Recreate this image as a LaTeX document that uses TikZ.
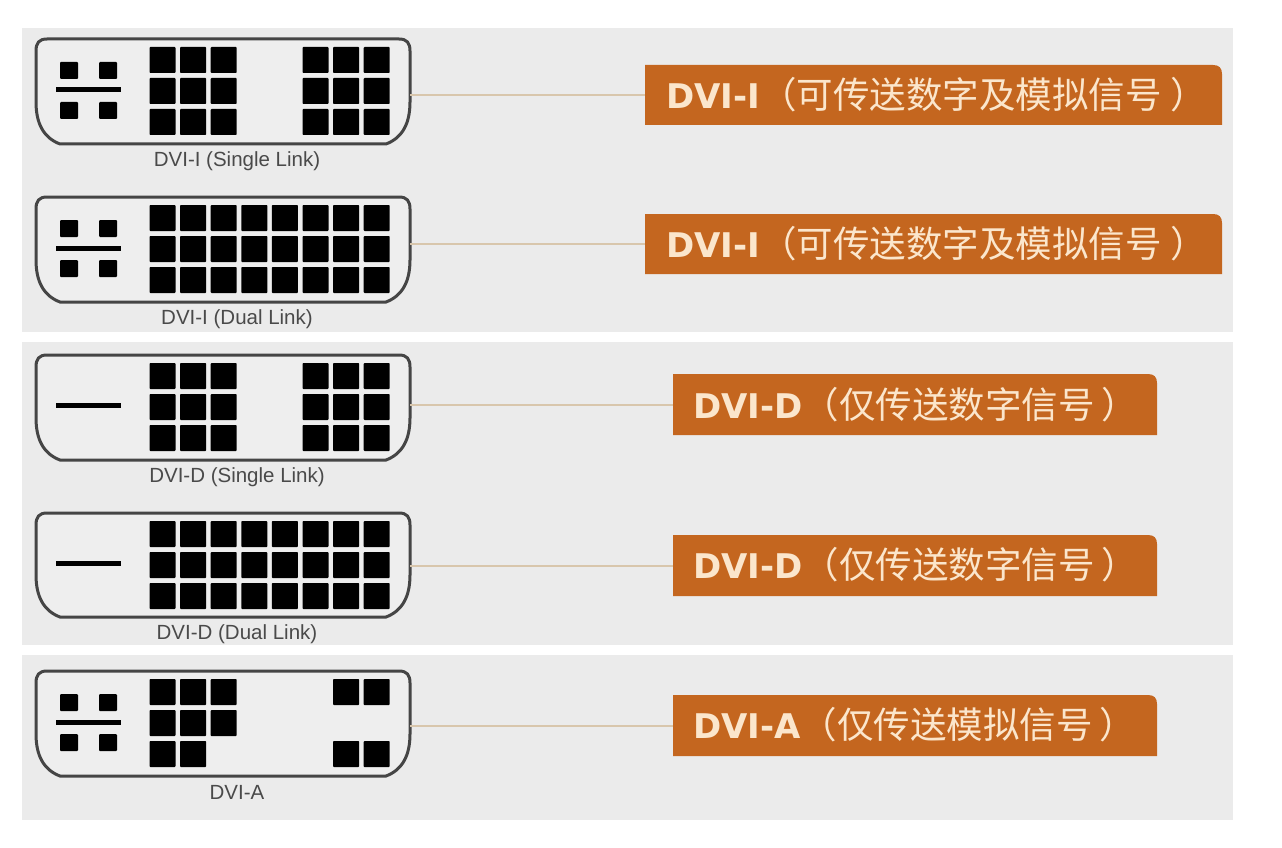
\documentclass[tikz,border=0pt]{standalone}
\usepackage{fontspec}
\setmainfont{Liberation Sans}
\newfontfamily\latinbold{DejaVu Sans Bold}
\newfontfamily\cjkfont{Noto Sans CJK SC}
\definecolor{panelgrey}{HTML}{EBEBEB}
\definecolor{badge}{HTML}{C4661F}
\definecolor{badgetext}{HTML}{FBE6CC}
\definecolor{leader}{HTML}{D8C6AC}
\definecolor{shellline}{HTML}{454545}
\definecolor{captiontext}{HTML}{4A4A4A}
\tikzset{
  panel/.style={fill=panelgrey,draw=none},
  shellpath/.style={draw=shellline,line width=3pt,fill=panelgrey!85!white},
  pin/.style={fill=black,draw=none,rounded corners=0.8pt},
  smallpin/.style={fill=black,draw=none,rounded corners=1pt},
  anchorbox/.style={draw=none,fill=none,inner sep=0pt,minimum width=374pt,minimum height=105pt},
  caption/.style={text=captiontext,font=\fontsize{20.5}{22}\selectfont,inner sep=0pt},
  badgefill/.style={fill=badge,draw=none},
  badgelabel/.style={text=badgetext,inner sep=0pt,anchor=west},
  leaderline/.style={draw=leader,line width=2pt},
}
% #1 name, #2 shell top y, #3 height
\newcommand{\dvishell}[3]{%
  \begin{scope}[yshift=-#2pt]
    \pgfmathsetmacro{\shh}{#3}
    \draw[shellpath] (47,0) -- (399,0) .. controls (407,0) and (410,4) .. (410,12)
      -- (410,\shh-42) .. controls (410,\shh-20) and (402,\shh-6) .. (386,\shh)
      -- (60,\shh) .. controls (44,\shh-6) and (36,\shh-20) .. (36,\shh-42)
      -- (36,12) .. controls (36,4) and (39,0) .. (47,0) -- cycle;
    \node[anchorbox] (#1) at (223,\shh/2) {};
  \end{scope}}
\newcommand{\analogpins}[1]{%
  \begin{scope}[yshift=-#1pt]
    \foreach \px in {60,99}{\foreach \py in {23,63}{
      \fill[smallpin] (\px,\py) rectangle ++(18,17);}}
    \fill[black] (56,48.5) rectangle (121,53.5);
  \end{scope}}
\newcommand{\digitalbar}[1]{%
  \begin{scope}[yshift=-#1pt]
    \fill[black] (56,47.5) rectangle (121,52.5);
  \end{scope}}
% #1 top y, #2 macro holding a list of col/row, zero-based columns 0..7
\newcommand{\pins}[2]{%
  \begin{scope}[yshift=-#1pt]
    \foreach \pc/\pr in #2{
      \fill[pin] ({149.5+\pc*30.6},{8+\pr*31}) rectangle ++(26,26);}
  \end{scope}}
% name, x1, x2, y1, y2
\newcommand{\badgeshape}[5]{%
  \fill[badgefill] (#2,#4) -- (#3-9,#4) .. controls (#3-3,#4) and (#3,#4+3) .. (#3,#4+9)
     -- (#3,#5) -- (#2,#5) -- cycle;
  \coordinate (#1) at (#2,{(#4+#5)/2});}
\newcommand{\bl}[1]{{\latinbold\fontsize{34}{36}\selectfont #1}}
\newcommand{\bc}[2]{{\cjkfont\fontsize{36.5}{38}\selectfont （#1\hspace{#2}）}}
\def\singlepins{0/0,1/0,2/0,5/0,6/0,7/0,0/1,1/1,2/1,5/1,6/1,7/1,0/2,1/2,2/2,5/2,6/2,7/2}
\def\dualpins{0/0,1/0,2/0,3/0,4/0,5/0,6/0,7/0,0/1,1/1,2/1,3/1,4/1,5/1,6/1,7/1,0/2,1/2,2/2,3/2,4/2,5/2,6/2,7/2}
\def\apins{0/0,1/0,2/0,6/0,7/0,0/1,1/1,2/1,0/2,1/2,6/2,7/2}
\begin{document}
\begin{tikzpicture}[x=1pt,y=-1pt]
\useasboundingbox (0,0) rectangle (1282,848);
\fill[white] (0,0) rectangle (1282,848);
\fill[panel] (22,28) rectangle (1233,332);
\fill[panel] (22,342) rectangle (1233,645);
\fill[panel] (22,655) rectangle (1233,820);

% badges
\badgeshape{b1}{645}{1222}{65}{125}
\badgeshape{b2}{645}{1222}{214}{274}
\badgeshape{b3}{673}{1157}{374}{435}
\badgeshape{b4}{673}{1157}{535}{596}
\badgeshape{b5}{673}{1157}{695}{756}

% connector outlines
\dvishell{s1}{39}{105}
\dvishell{s2}{197}{105}
\dvishell{s3}{355}{105}
\dvishell{s4}{513}{104}
\dvishell{s5}{671}{105}

% leader lines
\draw[leaderline] (s1.east |- b1) -- (b1);
\draw[leaderline] (s2.east |- b2) -- (b2);
\draw[leaderline] (s3.east |- b3) -- (b3);
\draw[leaderline] (s4.east |- b4) -- (b4);
\draw[leaderline] (s5.east |- b5) -- (b5);

% contacts
\analogpins{39}  \pins{39}{\singlepins}
\analogpins{197} \pins{197}{\dualpins}
\digitalbar{355} \pins{355}{\singlepins}
\digitalbar{513} \pins{513}{\dualpins}
\analogpins{671} \pins{671}{\apins}

% captions
\node[caption] (c1) at (237,161.5) {DVI-I (Single Link)};
\node[caption] (c2) at (237,319) {DVI-I (Dual Link)};
\node[caption] (c3) at (237,477) {DVI-D (Single Link)};
\node[caption] (c4) at (237,634) {DVI-D (Dual Link)};
\node[caption] (c5) at (237,792) {DVI-A};

% badge labels
\node[badgelabel] (t1) at (666,95) {\bl{DVI-I}\bc{可传送数字及模拟信号}{9pt}};
\node[badgelabel] (t2) at (666,244) {\bl{DVI-I}\bc{可传送数字及模拟信号}{9pt}};
\node[badgelabel] (t3) at (693,405) {\bl{DVI-D}\bc{仅传送数字信号}{7pt}};
\node[badgelabel] (t4) at (693,565) {\bl{DVI-D}\bc{仅传送数字信号}{7pt}};
\node[badgelabel] (t5) at (693,725) {\bl{DVI-A}\bc{仅传送模拟信号}{7pt}};
\end{tikzpicture}
\end{document}
